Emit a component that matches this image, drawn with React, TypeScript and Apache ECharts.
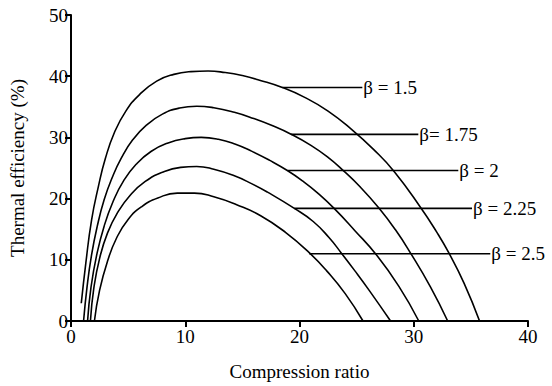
import React, { useEffect, useRef } from "react";
import * as echarts from "echarts";

const betaLabels = ["β = 1.5", "β= 1.75", "β = 2", "β = 2.25", "β = 2.5"];

const curve15 = [[0.9,2.9],[1.3,9.5],[1.8,16.5],[2.4,22.0],[3.0,26.5],[3.8,30.8],[4.8,34.3],[6.0,37.0],[7.5,39.2],[9.0,40.3],[10.5,40.75],[12.0,40.85],[13.5,40.6],[15.0,40.1],[16.5,39.35],[18.5,38.15],[20.5,36.5],[22.5,34.3],[24.5,31.4],[26.5,28.0],[28.3,24.4],[30.6,18.55],[32.0,14.56],[33.05,11.2],[34.4,6.2],[35.76,0]];
const curve175 = [[1.1,0],[1.4,5.5],[1.8,10.8],[2.3,15.5],[2.9,19.8],[3.6,23.4],[4.4,26.6],[5.4,29.6],[6.6,32.0],[8.0,33.8],[9.5,34.8],[11.0,35.1],[12.5,34.85],[14.3,34.1],[16.0,33.08],[17.6,31.93],[19.26,30.52],[21.0,28.69],[22.5,26.73],[23.76,24.7],[25.3,21.93],[26.95,18.46],[28.4,14.9],[29.72,11.1],[31.46,5.57],[32.97,0]];
const curve2 = [[1.45,0],[1.75,5.5],[2.25,10.8],[2.9,15.5],[3.7,19.6],[4.6,22.9],[5.7,25.6],[7.0,27.7],[8.5,29.1],[10.0,29.8],[11.4,30.0],[12.9,29.7],[14.4,28.88],[15.8,27.76],[17.4,26.24],[18.97,24.55],[20.3,22.85],[21.6,20.9],[23.03,18.4],[24.85,14.76],[26.67,10.94],[28.7,5.66],[30.44,0]];
const curve225 = [[1.7,0],[2.0,5.4],[2.5,10.2],[3.2,14.4],[4.1,17.8],[5.2,20.6],[6.5,22.8],[8.0,24.3],[9.6,25.1],[11.0,25.25],[12.5,24.8],[14.3,23.72],[15.8,22.45],[17.2,21.05],[19.55,18.4],[21.2,16.26],[22.6,13.6],[23.65,11.13],[24.85,8.19],[26.1,5.0],[27.97,0]];
const curve25 = [[2.05,0],[2.5,5.0],[3.2,9.8],[4.0,13.6],[5.0,16.6],[6.2,18.7],[7.6,20.1],[9.3,20.9],[10.8,20.9],[12.5,20.3],[14.5,19.0],[16.6,17.2],[18.8,14.45],[20.85,11.17],[22.4,8.15],[24.0,4.47],[25.56,0]];

const curves = [curve15, curve175, curve2, curve225, curve25];

// leader lines from each curve to its label
const leaderY = [38.15, 30.5, 24.6, 18.4, 11.0];
const leaderStart = [18.5, 19.26, 18.97, 19.55, 20.85];
const leaderEnd = [25.5, 30.4, 33.9, 35.1, 36.7];

const xTicks = { min: 0, max: 40, interval: 10 };
const yTicks = { min: 0, max: 50, interval: 10 };

const FONT = '"Liberation Serif", "Times New Roman", serif';

export default function App() {
  const ref = useRef<HTMLDivElement>(null);
  useEffect(() => {
    document.body.style.margin = "0";
    if (!ref.current) return;
    const chart = echarts.init(ref.current, undefined, { renderer: "svg" });
    const curveSeries = curves.map((c, i) => ({
      type: "line",
      name: betaLabels[i],
      data: c,
      smooth: 0.5,
      showSymbol: false,
      symbol: "none",
      lineStyle: { color: "#000", width: 1.6 },
      z: 3,
    }));
    const leaderSeries = leaderY.map((y, i) => ({
      type: "line",
      name: "leader" + i,
      data: [[leaderStart[i], y], [leaderEnd[i], y]],
      showSymbol: false,
      symbol: "none",
      lineStyle: { color: "#000", width: 1.6 },
      endLabel: {
        show: true,
        formatter: betaLabels[i],
        color: "#000",
        fontFamily: FONT,
        fontSize: 19,
        distance: 1,
      },
      z: 3,
    }));
    const labelStyle = { color: "#000", fontFamily: FONT, fontSize: 19 };
    chart.setOption({
      animation: false,
      textStyle: { fontFamily: FONT, color: "#000" },
      grid: { left: 69, right: 24, top: 15, bottom: 61 },
      xAxis: {
        type: "value",
        ...xTicks,
        name: "Compression ratio",
        nameLocation: "middle",
        nameGap: 41,
        nameTextStyle: labelStyle,
        axisLine: { show: true, lineStyle: { color: "#000", width: 2 } },
        axisTick: { show: true, length: 6, lineStyle: { color: "#000", width: 2 } },
        axisLabel: { ...labelStyle, margin: 6 },
        splitLine: { show: false },
      },
      yAxis: {
        type: "value",
        ...yTicks,
        name: "Thermal efficiency (%)",
        nameLocation: "middle",
        nameGap: 44,
        nameTextStyle: labelStyle,
        axisLine: { show: true, lineStyle: { color: "#000", width: 2 } },
        axisTick: { show: true, length: 6, lineStyle: { color: "#000", width: 2 } },
        axisLabel: { ...labelStyle, margin: 3 },
        splitLine: { show: false },
      },
      series: [...curveSeries, ...leaderSeries],
    });
    return () => chart.dispose();
  }, []);
  return <div ref={ref} style={{ width: 552, height: 386 }} />;
}
